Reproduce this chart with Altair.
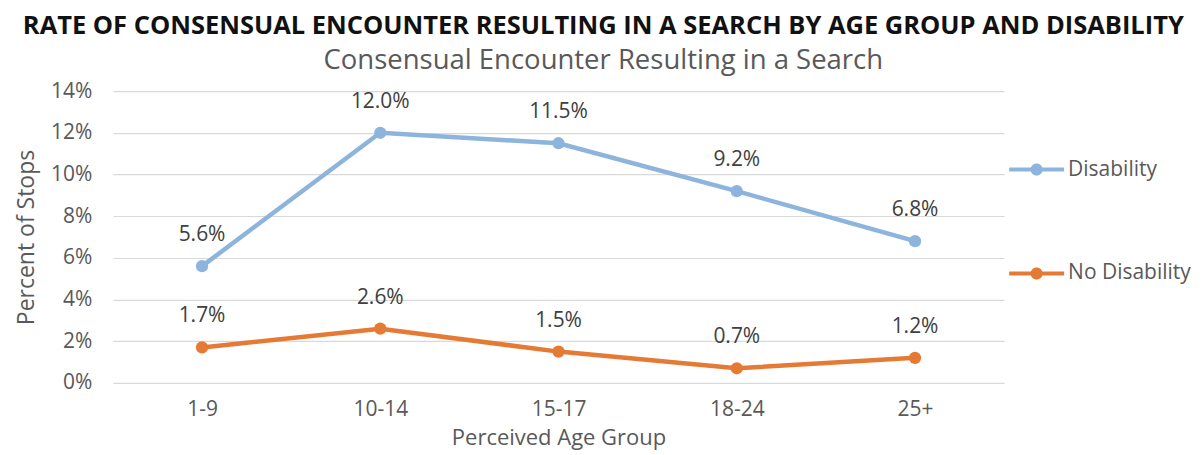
import altair as alt
import pandas as pd

age_groups = ["1-9", "10-14", "15-17", "18-24", "25+"]
disability = [0.056, 0.120, 0.115, 0.092, 0.068]
no_disability = [0.017, 0.026, 0.015, 0.007, 0.012]
series_names = ["Disability", "No Disability"]
colors = ["#8DB4DC", "#E57A35"]
y_ticks = [0, 0.02, 0.04, 0.06, 0.08, 0.10, 0.12, 0.14]

rows = []
for g, v in zip(age_groups, disability):
    rows.append({"age": g, "series": series_names[0], "value": v})
for g, v in zip(age_groups, no_disability):
    rows.append({"age": g, "series": series_names[1], "value": v})
df = pd.DataFrame(rows)

FONT = "Open Sans"
GRAY = "#595959"

legend_path = ("M-1,-0.075H1V0.075H-1Z "
               "M0,-0.22A0.22,0.22 0 1,1 0,0.22A0.22,0.22 0 1,1 0,-0.22Z")

x = alt.X("age:N", sort=age_groups, title="Perceived Age Group",
          scale=alt.Scale(paddingInner=0, paddingOuter=0.5),
          axis=alt.Axis(labelAngle=0, ticks=False, domain=False, grid=False,
                        labelFontSize=21, labelColor=GRAY, labelPadding=16,
                        titleFontSize=22, titleColor=GRAY, titleFontWeight="normal",
                        titlePadding=8, labelFont=FONT, titleFont=FONT))
y = alt.Y("value:Q", title="Percent of Stops",
          scale=alt.Scale(domain=[0, 0.14], nice=False),
          axis=alt.Axis(values=y_ticks, format=".0%", ticks=False, domain=False,
                        gridColor="#D9D9D9", gridWidth=1.2,
                        labelFontSize=21, labelColor=GRAY, labelPadding=21,
                        titleFontSize=23, titleColor=GRAY, titleFontWeight="normal",
                        titlePadding=12, labelFont=FONT, titleFont=FONT))
color = alt.Color("series:N", sort=series_names,
                  scale=alt.Scale(domain=series_names, range=colors),
                  legend=alt.Legend(title=None, orient="none", legendX=897, legendY=51,
                                    symbolType=legend_path, symbolSize=3025,
                                    symbolStrokeWidth=0, rowPadding=66,
                                    labelFontSize=21, labelColor=GRAY, labelFont=FONT,
                                    labelOffset=4))

base = alt.Chart(df).encode(x=x, y=y, color=color)

lines = base.mark_line(strokeWidth=4.5)
points = base.mark_point(filled=True, size=150, opacity=1)
labels = alt.Chart(df).mark_text(dy=-31, fontSize=21, font=FONT, color="#404040").encode(
    x=alt.X("age:N", sort=age_groups),
    y=alt.Y("value:Q"),
    text=alt.Text("value:Q", format=".1%"))

chart = alt.layer(lines, points, labels).properties(
    width=892, height=292,
    padding={"left": 7, "top": 6, "right": 5, "bottom": 2},
    title=alt.TitleParams(
        text="RATE OF CONSENSUAL ENCOUNTER RESULTING IN A SEARCH BY AGE GROUP AND DISABILITY",
        subtitle="Consensual Encounter Resulting in a Search",
        anchor="middle", frame="bounds", font=FONT, fontSize=25.5, fontWeight="bold",
        color="#111111", subtitleFont=FONT, subtitleFontSize=27.5, subtitleColor=GRAY,
        subtitlePadding=7, offset=6),
).configure_view(stroke=None)

chart.save("out.html", embed_options={"renderer": "svg", "actions": False})
